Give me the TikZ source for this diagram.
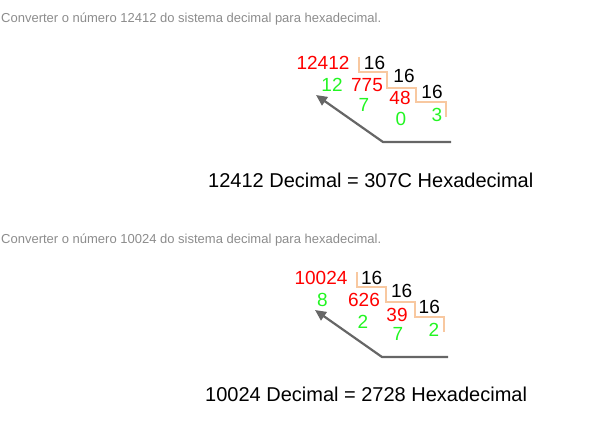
\documentclass[tikz,border=0pt]{standalone}
\usepackage{fontspec}
\setmainfont{Liberation Sans}
\usetikzlibrary{arrows.meta}
\definecolor{headgrey}{HTML}{8C8C8C}
\definecolor{digitred}{HTML}{FF0000}
\definecolor{digitgreen}{HTML}{22F522}
\definecolor{stairpeach}{HTML}{F8C8A0}
\definecolor{arrowgrey}{HTML}{666666}

\begin{document}
\begin{tikzpicture}[x=1pt, y=-1pt,
    heading/.style={font=\fontsize{13}{15}\selectfont, text=headgrey,
      anchor=base west, inner sep=0pt},
    dividend/.style={font=\fontsize{19}{21}\selectfont, text=digitred,
      anchor=base, inner sep=0pt},
    remainder/.style={dividend, text=digitgreen},
    divisor/.style={dividend, text=black},
    stair/.style={draw=stairpeach, line width=2.2pt},
    backarrow/.style={draw=arrowgrey, line width=2.2pt,
      -{Triangle[length=11pt, width=10pt]}},
    result/.style={font=\fontsize{20}{24}\selectfont, anchor=base west,
      inner sep=0pt}]
      \useasboundingbox (0, 0) rectangle (594, 433);

      % First conversion: 12412
      \node[heading] (headA) at (1, 23)
        {Converter o número 12412 do sistema decimal para hexadecimal.};
      \node[dividend] (numA) at (323, 70) {12412};
      \node[divisor] (divA1) at (374.5, 69.5) {16};
      \node[remainder] (remA1) at (332, 91.7) {12};
      \node[dividend] (quoA1) at (367, 91.7) {775};
      \node[divisor] (divA2) at (404, 82.7) {16};
      \node[remainder] (remA2) at (364, 111.7) {7};
      \node[dividend] (quoA2) at (400, 105) {48};
      \node[divisor] (divA3) at (432, 98.3) {16};
      \node[remainder] (remA3) at (437, 121.7) {3};
      \node[remainder] (quoA3) at (401, 126) {0};
      \draw[stair] (359, 57) -- (359, 72) -- (387, 72) -- (387, 88)
        -- (416, 88) -- (416, 102) -- (446, 102) -- (446, 117);
      \coordinate (readA) at (451, 142);
      \coordinate (bendA) at (383, 142);
      \coordinate (tipA) at (316, 95);
      \draw[backarrow] (readA) -- (bendA) -- (tipA);
      \node[result] (resA) at (208, 187) {12412 Decimal = 307C Hexadecimal};

      % Second conversion: 10024
      \node[heading] (headB) at (1, 243)
        {Converter o número 10024 do sistema decimal para hexadecimal.};
      \node[dividend] (numB) at (321, 284.3) {10024};
      \node[divisor] (divB1) at (371.7, 284.3) {16};
      \node[remainder] (remB1) at (322.5, 306.7) {8};
      \node[dividend] (quoB1) at (364, 306.7) {626};
      \node[divisor] (divB2) at (401.7, 297.7) {16};
      \node[remainder] (remB2) at (363, 328) {2};
      \node[dividend] (quoB2) at (397, 321.7) {39};
      \node[divisor] (divB3) at (429.3, 313.3) {16};
      \node[remainder] (remB3) at (434, 336.7) {2};
      \node[remainder] (quoB3) at (398, 340) {7};
      \draw[stair] (357, 272) -- (357, 287) -- (386, 287) -- (386, 302)
        -- (415, 302) -- (415, 317) -- (444, 317) -- (444, 332);
      \coordinate (readB) at (448, 357);
      \coordinate (bendB) at (382, 357);
      \coordinate (tipB) at (315, 310);
      \draw[backarrow] (readB) -- (bendB) -- (tipB);
      \node[result] (resB) at (205, 401) {10024 Decimal = 2728 Hexadecimal};
    \end{tikzpicture}
\end{document}
